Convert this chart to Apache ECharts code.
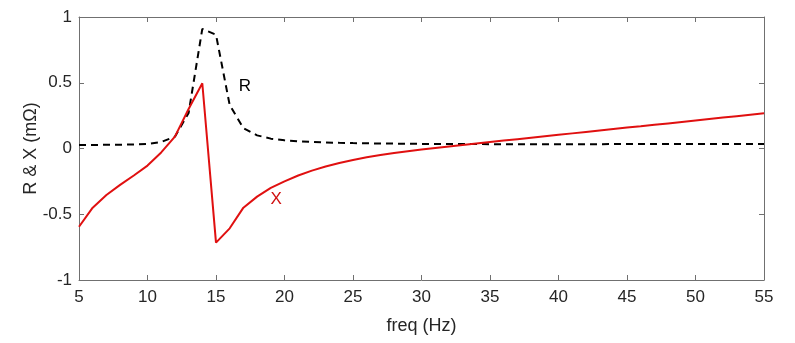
<!DOCTYPE html>
<html><head><meta charset="utf-8">
<script src="https://cdn.jsdelivr.net/npm/echarts@6/dist/echarts.min.js"></script>
<style>html,body{margin:0;padding:0;background:#fff}#c{width:795px;height:343px}</style>
</head><body><div id="c"></div>
<script>
const freq = [5,6,7,8,9,10,11,12,13,14,15,16,17,18,19,20,21,22,23,24,25,26,27,28,29,30,31,32,33,34,35,36,37,38,39,40,41,42,43,44,45,46,47,48,49,50,51,52,53,54,55];
const R = [0.027,0.027,0.028,0.029,0.031,0.035,0.05,0.09,0.27,0.91,0.865,0.33,0.155,0.10,0.075,0.062,0.055,0.05,0.046,0.043,0.041,0.04,0.038,0.037,0.036,0.035,0.035,0.034,0.034,0.034,0.033,0.033,0.033,0.033,0.033,0.033,0.033,0.033,0.033,0.034,0.034,0.034,0.034,0.034,0.034,0.035,0.035,0.035,0.035,0.035,0.035];
const X = [-0.595,-0.45,-0.354,-0.277,-0.205,-0.13,-0.03,0.09,0.30,0.496,-0.716,-0.607,-0.45,-0.366,-0.30,-0.25,-0.205,-0.168,-0.137,-0.11,-0.087,-0.067,-0.05,-0.035,-0.021,-0.008,0.004,0.016,0.027,0.038,0.049,0.06,0.071,0.082,0.093,0.104,0.115,0.126,0.137,0.148,0.159,0.169,0.180,0.191,0.202,0.213,0.224,0.235,0.246,0.257,0.268];
const xTicks = {min:5, max:55, step:5};
const yTicks = {min:-1, max:1, step:0.5};
const labels = [{text:'R', at:[17.1, 0.47], color:'#000'}, {text:'X', at:[19.4, -0.39], color:'#d01010'}];

const chart = echarts.init(document.getElementById('c'), null, {renderer:'canvas'});
const axisCol = '#707070', txt = '#262626', font = 'Liberation Sans, Arial, Helvetica, sans-serif';
const baseX = {type:'value', min:xTicks.min, max:xTicks.max, interval:xTicks.step,
  axisLine:{show:true, onZero:false, lineStyle:{color:axisCol, width:1}},
  axisTick:{show:true, inside:true, length:5, lineStyle:{color:axisCol}},
  splitLine:{show:false}};
const baseY = {type:'value', min:yTicks.min, max:yTicks.max, interval:yTicks.step,
  axisLine:{show:true, onZero:false, lineStyle:{color:axisCol, width:1}},
  axisTick:{show:true, inside:true, length:5, lineStyle:{color:axisCol}},
  splitLine:{show:false}};
const fmtNum = v => String(Math.round(v*10)/10);
chart.setOption({
  animation:false,
  backgroundColor:'#fff',
  grid:{left:79, right:31, top:17, bottom:63, containLabel:false},
  xAxis:[
    Object.assign({}, baseX, {position:'bottom', name:'freq (Hz)', nameLocation:'middle', nameGap:37, nameMoveOverlap:false,
      nameTextStyle:{color:txt, fontSize:18, fontFamily:font},
      axisLabel:{color:txt, fontSize:17, fontFamily:font, margin:9, formatter:fmtNum}}),
    Object.assign({}, baseX, {position:'top', axisLabel:{show:false}})
  ],
  yAxis:[
    Object.assign({}, baseY, {position:'left', name:'R & X (mΩ)', nameLocation:'middle', nameGap:39, nameMoveOverlap:false,
      nameTextStyle:{color:txt, fontSize:18, fontFamily:font},
      axisLabel:{color:txt, fontSize:17, fontFamily:font, margin:7, formatter:fmtNum}}),
    Object.assign({}, baseY, {position:'right', axisLabel:{show:false}})
  ],
  series:[
    {type:'line', name:'R', data:freq.map((f,i)=>[f,R[i]]), showSymbol:false, symbol:'none',
     lineStyle:{color:'#000', width:2, type:[7,5]}, z:2,
     markPoint:{symbol:'circle', symbolSize:0, silent:true,
       data:[{coord:labels[0].at, label:{show:true, formatter:labels[0].text, color:labels[0].color, fontSize:17, fontFamily:font}}]}},
    {type:'line', name:'X', data:freq.map((f,i)=>[f,X[i]]), showSymbol:false, symbol:'none',
     lineStyle:{color:'#e01010', width:2}, z:3,
     markPoint:{symbol:'circle', symbolSize:0, silent:true,
       data:[{coord:labels[1].at, label:{show:true, formatter:labels[1].text, color:labels[1].color, fontSize:17, fontFamily:font}}]}}
  ]
});
</script></body></html>
